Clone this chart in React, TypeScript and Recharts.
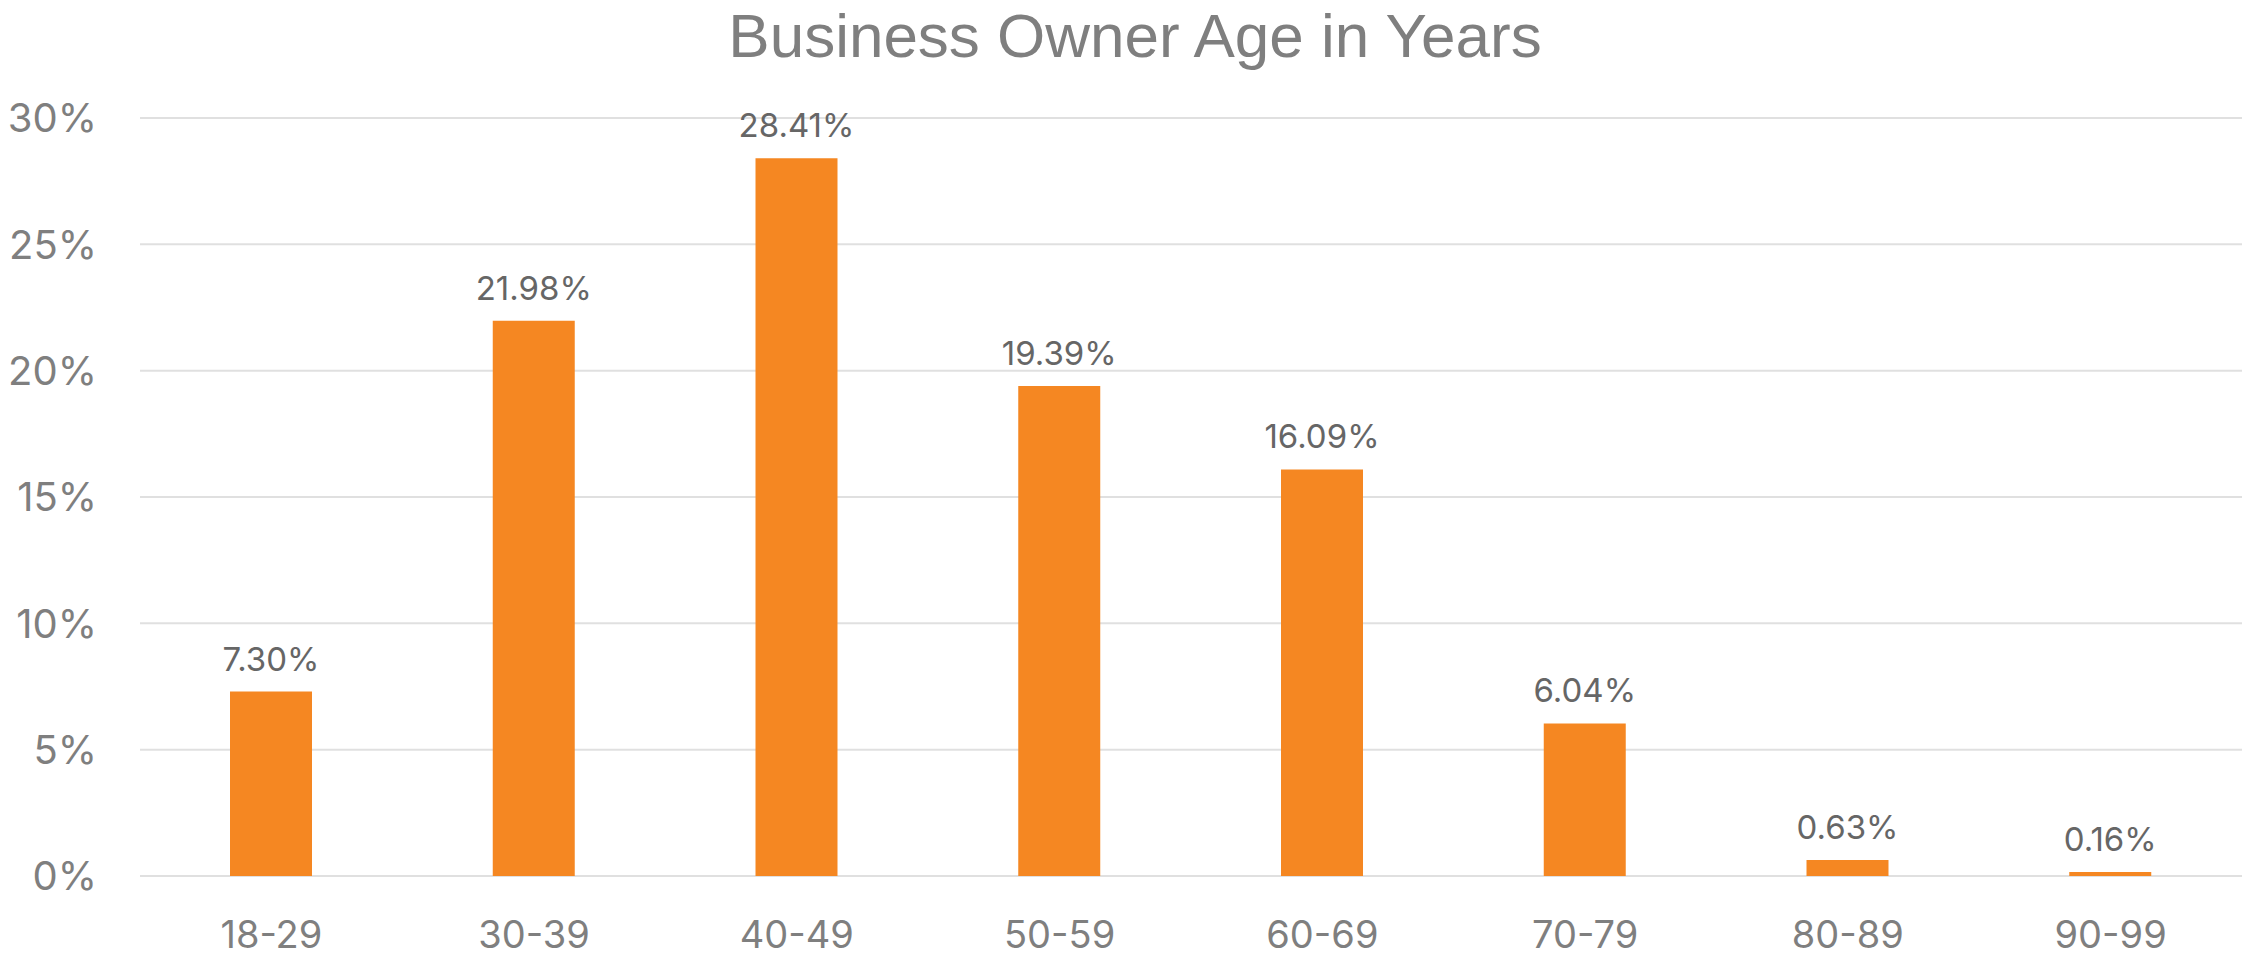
import { BarChart, Bar, XAxis, YAxis, CartesianGrid, LabelList } from 'recharts';

const ageGroups = ['18-29', '30-39', '40-49', '50-59', '60-69', '70-79', '80-89', '90-99'];
const ownerShare = [7.3, 21.98, 28.41, 19.39, 16.09, 6.04, 0.63, 0.16];
const yTicks = [0, 5, 10, 15, 20, 25, 30];

const data = ageGroups.map((group, i) => ({ group, share: ownerShare[i] }));

export default function App() {
  return (
    <div style={{ position: 'absolute', left: 0, top: 0, width: 2252, height: 958, background: '#fff' }}>
      <div
        style={{
          position: 'absolute',
          left: 0,
          width: 2270,
          top: 0,
          textAlign: 'center',
          fontFamily: '"Liberation Sans", Arial, sans-serif',
          fontSize: 62,
          lineHeight: '72px',
          color: '#7f7f7f',
        }}
      >
        Business Owner Age in Years
      </div>
      <BarChart
        width={2252}
        height={958}
        data={data}
        margin={{ top: 118, right: 10, bottom: 0, left: 0 }}
        style={{ fontFamily: 'Inter, "Liberation Sans", sans-serif' }}
      >
        <CartesianGrid vertical={false} stroke="#e0e0e0" strokeWidth={2} />
        <XAxis
          dataKey="group"
          height={82}
          axisLine={false}
          tickLine={false}
          tickSize={0}
          tickMargin={45}
          tick={{ fill: '#7f7f7f', fontSize: 38 }}
        />
        <YAxis
          width={140}
          domain={[0, 30]}
          ticks={yTicks}
          axisLine={false}
          tickLine={false}
          tickSize={0}
          tickMargin={43}
          tickFormatter={(v) => `${v}%`}
          tick={{ fill: '#7f7f7f', fontSize: 40 }}
        />
        <Bar dataKey="share" fill="#f58722" barSize={82} isAnimationActive={false}>
          <LabelList
            dataKey="share"
            position="top"
            offset={21}
            formatter={(v: number) => `${v.toFixed(2)}%`}
            style={{ fill: '#666666', fontSize: 33 }}
          />
        </Bar>
      </BarChart>
    </div>
  );
}
